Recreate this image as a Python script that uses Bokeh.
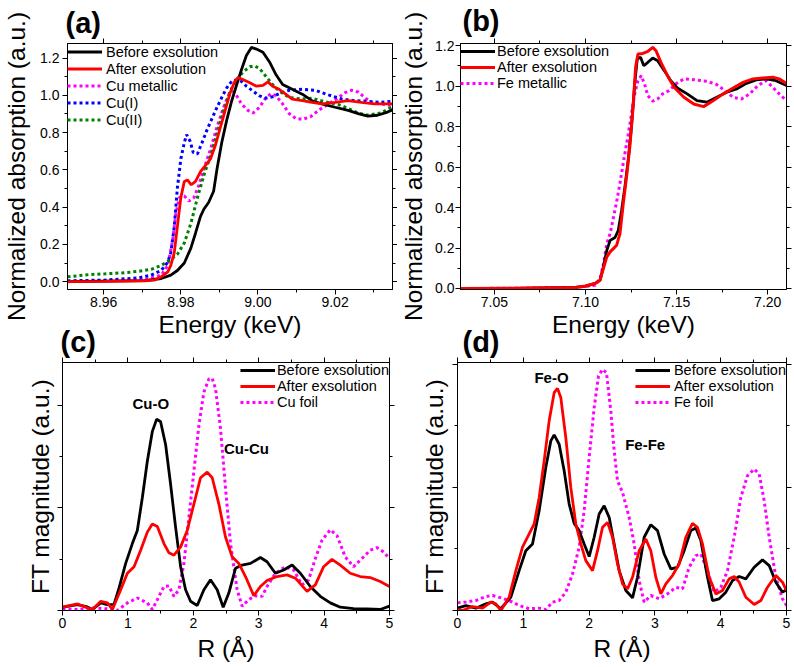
from bokeh.plotting import figure
from bokeh.layouts import column, row
from bokeh.models import (Range1d, LinearAxis, FixedTicker, NumeralTickFormatter,
                          Label, Legend, LegendItem, Title, CustomLabelingPolicy)
from bokeh.embed import file_html
from bokeh.resources import INLINE

FONT = "Liberation Sans"
BLACK, RED, MAGENTA, BLUE, GREEN = "#000000", "#ff0000", "#ff00ff", "#0000ff", "#008000"

# ---------------- (a) Cu K-edge XANES ----------------
a_x_ticks = [8.96, 8.98, 9.00, 9.02]
a_x_minor = [8.97, 8.99, 9.01, 9.03]
a_y_ticks = [0.0, 0.2, 0.4, 0.6, 0.8, 1.0, 1.2]
a_y_minor = [0.1, 0.3, 0.5, 0.7, 0.9, 1.1]

a_E_before = [8.9506, 8.9600, 8.9706, 8.9749, 8.9774, 8.9791, 8.9809, 8.9826, 8.9838, 8.9851,
              8.9860, 8.9872, 8.9885, 8.9894, 8.9906, 8.9919, 8.9932, 8.9945, 8.9957, 8.9970,
              8.9983, 8.9996, 9.0013, 9.0030, 9.0047, 9.0064, 9.0089, 9.0115, 9.0140, 9.0166,
              9.0200, 9.0234, 9.0260, 9.0285, 9.0310, 9.0336, 9.0349]
a_before = [0.000, 0.003, 0.006, 0.017, 0.035, 0.060, 0.100, 0.180, 0.260, 0.350,
            0.390, 0.425, 0.485, 0.607, 0.746, 0.867, 0.971, 1.058, 1.136, 1.214,
            1.257, 1.248, 1.231, 1.179, 1.110, 1.058, 1.032, 1.006, 0.971, 0.954,
            0.936, 0.919, 0.902, 0.888, 0.893, 0.910, 0.922]

a_E_after = [8.9506, 8.9600, 8.9706, 8.9732, 8.9749, 8.9766, 8.9774, 8.9783, 8.9791, 8.9800,
             8.9809, 8.9817, 8.9827, 8.9838, 8.9851, 8.9864, 8.9877, 8.9889, 8.9902, 8.9915,
             8.9928, 8.9940, 8.9949, 8.9962, 8.9979, 8.9996, 9.0013, 9.0026, 9.0038, 9.0055,
             9.0072, 9.0089, 9.0115, 9.0140, 9.0166, 9.0200, 9.0234, 9.0268, 9.0302, 9.0349]
a_after = [0.000, 0.002, 0.005, 0.009, 0.026, 0.052, 0.087, 0.156, 0.295, 0.451,
           0.538, 0.546, 0.520, 0.538, 0.590, 0.624, 0.659, 0.728, 0.824, 0.919,
           1.014, 1.075, 1.096, 1.084, 1.067, 1.049, 1.053, 1.072, 1.049, 1.032,
           1.006, 0.980, 0.971, 0.962, 0.954, 0.962, 0.971, 0.962, 0.954, 0.954]

a_E_cu = [8.9506, 8.9600, 8.9706, 8.9749, 8.9766, 8.9779, 8.9787, 8.9796, 8.9809, 8.9821,
          8.9834, 8.9847, 8.9860, 8.9877, 8.9894, 8.9911, 8.9923, 8.9936, 8.9945, 8.9957,
          8.9974, 8.9987, 9.0004, 9.0021, 9.0034, 9.0047, 9.0064, 9.0081, 9.0098, 9.0115,
          9.0136, 9.0157, 9.0183, 9.0209, 9.0226, 9.0243, 9.0260, 9.0277, 9.0294, 9.0319, 9.0349]
a_cu = [0.000, 0.004, 0.010, 0.035, 0.087, 0.225, 0.364, 0.451, 0.460, 0.433,
        0.451, 0.520, 0.607, 0.711, 0.832, 0.936, 0.997, 1.020, 0.997, 0.954,
        0.919, 0.905, 0.936, 0.988, 1.009, 0.997, 0.954, 0.902, 0.876, 0.871,
        0.884, 0.919, 0.954, 0.988, 1.014, 1.027, 1.018, 0.988, 0.962, 0.954, 0.945]

a_E_cu1 = [8.9506, 8.9600, 8.9689, 8.9723, 8.9749, 8.9766, 8.9774, 8.9783, 8.9791, 8.9800,
           8.9809, 8.9815, 8.9824, 8.9832, 8.9843, 8.9855, 8.9868, 8.9881, 8.9894, 8.9906,
           8.9919, 8.9932, 8.9945, 8.9957, 8.9970, 8.9987, 9.0004, 9.0021, 9.0038, 9.0055,
           9.0081, 9.0115, 9.0149, 9.0183, 9.0217, 9.0251, 9.0285, 9.0319, 9.0349]
a_cu1 = [0.005, 0.008, 0.020, 0.035, 0.060, 0.104, 0.156, 0.295, 0.503, 0.659,
         0.746, 0.789, 0.754, 0.694, 0.685, 0.746, 0.815, 0.876, 0.936, 0.988,
         1.040, 1.075, 1.084, 1.075, 1.049, 1.023, 0.997, 0.985, 0.992, 1.009,
         1.027, 1.032, 1.027, 1.002, 0.980, 0.971, 0.968, 0.962, 0.968]

a_E_cu2 = [8.9506, 8.9561, 8.9604, 8.9647, 8.9689, 8.9723, 8.9749, 8.9770, 8.9791, 8.9809,
           8.9826, 8.9843, 8.9860, 8.9877, 8.9894, 8.9911, 8.9928, 8.9945, 8.9962, 8.9979,
           8.9991, 9.0004, 9.0021, 9.0038, 9.0055, 9.0081, 9.0115, 9.0140, 9.0174, 9.0209,
           9.0234, 9.0260, 9.0285, 9.0319, 9.0349]
a_cu2 = [0.026, 0.038, 0.042, 0.047, 0.055, 0.066, 0.087, 0.113, 0.147, 0.208,
         0.312, 0.451, 0.572, 0.676, 0.798, 0.919, 1.023, 1.084, 1.127, 1.153,
         1.158, 1.144, 1.101, 1.058, 1.023, 0.988, 0.980, 0.985, 0.965, 0.950,
         0.930, 0.905, 0.893, 0.905, 0.940]

# ---------------- (b) Fe K-edge XANES ----------------
b_x_ticks = [7.05, 7.10, 7.15, 7.20]
b_x_minor = [7.075, 7.125, 7.175]
b_y_ticks = [0.0, 0.2, 0.4, 0.6, 0.8, 1.0, 1.2]
b_y_minor = [0.1, 0.3, 0.5, 0.7, 0.9, 1.1]

b_E_before = [7.0314, 7.0600, 7.0945, 7.1000, 7.1053, 7.1080, 7.1098, 7.1117, 7.1135, 7.1162,
              7.1180, 7.1198, 7.1216, 7.1234, 7.1252, 7.1270, 7.1284, 7.1302, 7.1320, 7.1342,
              7.1369, 7.1396, 7.1432, 7.1468, 7.1504, 7.1558, 7.1612, 7.1666, 7.1720, 7.1775,
              7.1829, 7.1883, 7.1937, 7.1991, 7.2045, 7.2103]
b_before = [0.000, 0.001, 0.005, 0.012, 0.025, 0.041, 0.107, 0.189, 0.238, 0.252,
            0.288, 0.386, 0.501, 0.633, 0.797, 1.011, 1.134, 1.143, 1.101, 1.118,
            1.139, 1.126, 1.077, 1.027, 0.991, 0.962, 0.929, 0.921, 0.945, 0.970,
            0.986, 1.014, 1.031, 1.036, 1.027, 1.003]

b_E_after = [7.0314, 7.0600, 7.0945, 7.1000, 7.1053, 7.1080, 7.1098, 7.1117, 7.1135, 7.1153,
             7.1171, 7.1189, 7.1207, 7.1225, 7.1243, 7.1261, 7.1275, 7.1288, 7.1315, 7.1342,
             7.1369, 7.1387, 7.1414, 7.1450, 7.1486, 7.1540, 7.1594, 7.1648, 7.1702, 7.1756,
             7.1810, 7.1865, 7.1919, 7.1973, 7.2027, 7.2063, 7.2103]
b_after = [0.000, 0.001, 0.005, 0.012, 0.025, 0.041, 0.099, 0.156, 0.181, 0.197,
           0.214, 0.271, 0.419, 0.551, 0.699, 0.896, 1.093, 1.159, 1.162, 1.172,
           1.192, 1.175, 1.118, 1.052, 0.995, 0.945, 0.912, 0.899, 0.929, 0.962,
           0.991, 1.019, 1.036, 1.040, 1.044, 1.036, 1.014]

b_E_fe = [7.0314, 7.0600, 7.0945, 7.1053, 7.1080, 7.1099, 7.1117, 7.1135, 7.1153, 7.1171,
          7.1189, 7.1207, 7.1234, 7.1252, 7.1270, 7.1288, 7.1306, 7.1324, 7.1342, 7.1369,
          7.1396, 7.1423, 7.1459, 7.1495, 7.1540, 7.1594, 7.1666, 7.1720, 7.1765, 7.1810,
          7.1856, 7.1901, 7.1946, 7.1991, 7.2027, 7.2063, 7.2103]
b_fe = [0.000, 0.001, 0.005, 0.016, 0.049, 0.123, 0.222, 0.271, 0.350, 0.430,
        0.520, 0.620, 0.760, 0.860, 0.962, 1.027, 1.052, 1.011, 0.953, 0.926,
        0.937, 0.962, 0.978, 1.011, 1.036, 1.032, 1.024, 1.008, 0.978, 0.945,
        0.937, 0.962, 1.003, 1.027, 0.995, 0.962, 0.929]

# ---------------- (c) Cu K-edge Fourier transform ----------------
c_x_ticks = [0, 1, 2, 3, 4, 5]
c_x_minor = [0.5, 1.5, 2.5, 3.5, 4.5]
c_y_ticks = [0, 1, 2]
c_y_minor = [0.5, 1.5]

c_R_before = [0.000, 0.229, 0.381, 0.458, 0.585, 0.687, 0.788, 0.865, 0.966, 1.068,
              1.144, 1.221, 1.297, 1.373, 1.440, 1.500, 1.577, 1.653, 1.729, 1.806,
              1.882, 1.958, 2.060, 2.162, 2.263, 2.365, 2.457, 2.543, 2.645, 2.747,
              2.874, 3.026, 3.128, 3.255, 3.382, 3.510, 3.637, 3.789, 3.942, 4.095,
              4.247, 4.451, 4.654, 4.858, 5.000]
c_before = [0.032, 0.058, 0.035, 0.010, 0.074, 0.058, 0.060, 0.220, 0.459, 0.652,
            0.780, 1.101, 1.454, 1.743, 1.865, 1.840, 1.615, 1.230, 0.812, 0.427,
            0.202, 0.090, 0.048, 0.202, 0.299, 0.202, 0.032, 0.170, 0.411, 0.443,
            0.459, 0.517, 0.475, 0.363, 0.395, 0.443, 0.363, 0.234, 0.138, 0.074,
            0.032, 0.019, 0.016, 0.010, 0.042]

c_R_after = [0.000, 0.229, 0.381, 0.458, 0.585, 0.687, 0.763, 0.890, 0.992, 1.094,
             1.195, 1.297, 1.373, 1.450, 1.551, 1.628, 1.704, 1.806, 1.907, 2.009,
             2.111, 2.213, 2.289, 2.391, 2.492, 2.594, 2.696, 2.798, 2.925, 3.026,
             3.128, 3.281, 3.433, 3.561, 3.739, 3.866, 3.993, 4.120, 4.247, 4.400,
             4.552, 4.705, 4.858, 5.000]
c_after = [0.032, 0.064, 0.026, 0.010, 0.090, 0.074, 0.010, 0.202, 0.363, 0.427,
           0.587, 0.764, 0.844, 0.819, 0.652, 0.562, 0.539, 0.620, 0.780, 1.037,
           1.294, 1.348, 1.294, 1.037, 0.716, 0.523, 0.459, 0.331, 0.144, 0.234,
           0.292, 0.331, 0.347, 0.315, 0.186, 0.250, 0.427, 0.498, 0.443, 0.363,
           0.331, 0.321, 0.283, 0.234]

c_R_foil = [0.000, 0.229, 0.483, 0.687, 0.839, 0.992, 1.144, 1.297, 1.373, 1.450,
            1.551, 1.628, 1.704, 1.780, 1.857, 1.933, 2.009, 2.086, 2.162, 2.238,
            2.289, 2.340, 2.416, 2.492, 2.569, 2.670, 2.747, 2.848, 2.950, 3.052,
            3.128, 3.255, 3.408, 3.535, 3.662, 3.764, 3.866, 3.967, 4.095, 4.196,
            4.323, 4.451, 4.578, 4.705, 4.807, 4.909, 5.000]
c_foil = [0.016, 0.010, 0.026, 0.016, 0.000, 0.074, 0.122, 0.074, 0.010, 0.106,
          0.234, 0.240, 0.138, 0.202, 0.459, 0.909, 1.358, 1.807, 2.128, 2.257,
          2.263, 2.160, 1.775, 1.197, 0.652, 0.202, 0.042, 0.106, 0.144, 0.138,
          0.234, 0.363, 0.427, 0.395, 0.250, 0.299, 0.507, 0.684, 0.787, 0.732,
          0.523, 0.427, 0.507, 0.587, 0.613, 0.571, 0.507]

# ---------------- (d) Fe K-edge Fourier transform ----------------
d_x_ticks = [0, 1, 2, 3, 4, 5]
d_x_minor = [0.5, 1.5, 2.5, 3.5, 4.5]
d_y_ticks = [0, 1, 2]
d_y_minor = [0.5, 1.5]

d_R_before = [0.000, 0.127, 0.279, 0.431, 0.532, 0.659, 0.811, 0.937, 1.038, 1.140,
              1.241, 1.342, 1.418, 1.469, 1.545, 1.621, 1.697, 1.773, 1.849, 1.925,
              2.001, 2.077, 2.153, 2.229, 2.305, 2.381, 2.457, 2.558, 2.660, 2.736,
              2.837, 2.938, 3.040, 3.141, 3.242, 3.343, 3.445, 3.546, 3.622, 3.698,
              3.799, 3.875, 3.977, 4.078, 4.179, 4.281, 4.382, 4.509, 4.635, 4.737,
              4.838, 4.939, 5.000]
d_before = [0.019, 0.040, 0.019, 0.054, 0.068, 0.014, 0.108, 0.324, 0.486, 0.541,
            0.811, 1.162, 1.378, 1.427, 1.351, 1.135, 0.865, 0.708, 0.649, 0.541,
            0.438, 0.595, 0.784, 0.851, 0.757, 0.541, 0.324, 0.162, 0.103, 0.270,
            0.595, 0.697, 0.649, 0.459, 0.338, 0.351, 0.486, 0.649, 0.670, 0.568,
            0.270, 0.081, 0.095, 0.149, 0.243, 0.276, 0.257, 0.351, 0.411, 0.365,
            0.230, 0.149, 0.168]

d_R_after = [0.000, 0.076, 0.228, 0.380, 0.507, 0.583, 0.659, 0.785, 0.887, 0.988,
             1.089, 1.165, 1.241, 1.317, 1.393, 1.469, 1.520, 1.570, 1.646, 1.722,
             1.798, 1.874, 1.950, 2.052, 2.128, 2.204, 2.280, 2.356, 2.432, 2.508,
             2.584, 2.660, 2.761, 2.862, 2.938, 3.014, 3.090, 3.166, 3.267, 3.369,
             3.470, 3.571, 3.647, 3.723, 3.825, 3.926, 4.027, 4.129, 4.205, 4.281,
             4.382, 4.509, 4.610, 4.711, 4.838, 4.939, 5.000]
d_after = [0.008, 0.000, 0.032, 0.019, 0.068, 0.054, 0.000, 0.108, 0.324, 0.514,
           0.622, 0.703, 0.919, 1.216, 1.541, 1.770, 1.805, 1.730, 1.405, 1.000,
           0.703, 0.541, 0.405, 0.324, 0.486, 0.676, 0.716, 0.595, 0.378, 0.216,
           0.176, 0.270, 0.486, 0.581, 0.486, 0.270, 0.135, 0.216, 0.284, 0.378,
           0.595, 0.708, 0.676, 0.541, 0.270, 0.135, 0.162, 0.257, 0.276, 0.230,
           0.108, 0.049, 0.081, 0.189, 0.284, 0.230, 0.162]

d_R_foil = [0.000, 0.127, 0.279, 0.431, 0.532, 0.659, 0.785, 0.937, 1.089, 1.241,
            1.342, 1.444, 1.545, 1.646, 1.748, 1.849, 1.925, 2.001, 2.077, 2.143,
            2.204, 2.264, 2.330, 2.381, 2.432, 2.508, 2.609, 2.685, 2.761, 2.837,
            2.938, 3.065, 3.191, 3.318, 3.419, 3.521, 3.622, 3.698, 3.799, 3.901,
            4.002, 4.103, 4.205, 4.306, 4.407, 4.509, 4.585, 4.661, 4.737, 4.838,
            4.939, 5.000]
d_foil = [0.062, 0.068, 0.081, 0.114, 0.122, 0.103, 0.081, 0.041, 0.014, 0.019,
          0.008, 0.068, 0.081, 0.149, 0.297, 0.514, 0.811, 1.243, 1.649, 1.905,
          1.959, 1.932, 1.622, 1.297, 1.054, 0.959, 0.757, 0.541, 0.243, 0.068,
          0.122, 0.095, 0.135, 0.189, 0.176, 0.351, 0.446, 0.459, 0.324, 0.149,
          0.189, 0.324, 0.595, 0.919, 1.095, 1.149, 1.108, 0.892, 0.595, 0.270,
          0.095, 0.041]


def style_axis(ax, show_labels, label_standoff=2, title_standoff=2):
    ax.major_tick_in = 0
    ax.major_tick_out = 5
    ax.minor_tick_in = 0
    ax.minor_tick_out = 3
    ax.axis_line_color = "black"
    ax.major_tick_line_color = "black"
    ax.minor_tick_line_color = "black"
    ax.major_label_text_font = FONT
    ax.major_label_text_color = "black"
    if show_labels:
        ax.major_label_text_font_size = "14px"
        ax.major_label_standoff = label_standoff
    else:
        # tick marks only: no tick labels are emitted at all
        ax.major_label_text_font_size = "0px"
        ax.major_label_standoff = 0
        ax.major_label_policy = CustomLabelingPolicy(code="return []")
    ax.axis_label_text_font = FONT
    ax.axis_label_text_font_size = "24.5px"
    ax.axis_label_text_font_style = "normal"
    ax.axis_label_text_color = "black"
    ax.axis_label_standoff = title_standoff


def make_panel(width, height, x_range, y_range, border, xt, yt, x_label, y_label,
               x_fmt, y_fmt, xs=(2, 1), ys=(4, 4)):
    left, right, top, bottom = border
    p = figure(width=width, height=height, x_range=Range1d(*x_range), y_range=Range1d(*y_range),
               x_axis_type=None, y_axis_type=None, output_backend="svg", toolbar_location=None,
               min_border_left=left, min_border_right=right,
               min_border_top=top, min_border_bottom=bottom)
    p.outline_line_color = "black"
    p.background_fill_color = "white"
    p.border_fill_color = None

    bottom_ax = LinearAxis(ticker=FixedTicker(ticks=xt[0], minor_ticks=xt[1]), axis_label=x_label)
    style_axis(bottom_ax, True, *xs)
    bottom_ax.formatter = NumeralTickFormatter(format=x_fmt)
    p.add_layout(bottom_ax, "below")

    left_ax = LinearAxis(ticker=FixedTicker(ticks=yt[0], minor_ticks=yt[1]), axis_label=y_label)
    style_axis(left_ax, y_fmt is not None, *ys)
    if y_fmt is not None:
        left_ax.formatter = NumeralTickFormatter(format=y_fmt)
    p.add_layout(left_ax, "left")

    # mirrored tick marks on the top and right edges of the frame
    top_ax = LinearAxis(ticker=FixedTicker(ticks=xt[0], minor_ticks=xt[1]))
    style_axis(top_ax, False)
    p.add_layout(top_ax, "above")
    right_ax = LinearAxis(ticker=FixedTicker(ticks=yt[0], minor_ticks=yt[1]))
    style_axis(right_ax, False)
    p.add_layout(right_ax, "right")
    return p


def add_legend(p, items, location, padding, row_h, standoff):
    lg = Legend(items=[LegendItem(label=t, renderers=[r]) for t, r in items],
                location=location, margin=0, padding=padding, spacing=0,
                label_height=row_h, glyph_height=row_h, glyph_width=35,
                label_standoff=standoff, border_line_color=None,
                background_fill_alpha=0, label_text_font=FONT,
                label_text_font_size="14.5px", label_text_color="black")
    p.add_layout(lg)


def panel_tag(p, text, offset, standoff):
    p.add_layout(Title(text=text, align="left", offset=offset, standoff=standoff,
                       text_font=FONT, text_font_size="29px", text_font_style="bold",
                       text_color="black"), "above")


def peak_note(p, text, x, y):
    p.add_layout(Label(x=x, y=y, text=text, text_font=FONT, text_font_size="15px",
                       text_font_style="bold", text_align="center", text_baseline="middle",
                       text_color="black"))


DOT = dict(line_width=3, line_dash="3 3")
SOLID = dict(line_width=2.8)

TOP_H = 342          # upper row canvas height
TOP_LOW = 312        # where the lower row canvases begin
OVERLAP = TOP_H - TOP_LOW
BOT_H = 667 - TOP_LOW

# ---- (a) ----
a_xr, a_yr = (8.9506, 9.0349), (-0.042, 1.278)
pa = make_panel(397, TOP_H, a_xr, a_yr, (62, 5, 38, TOP_H - 291), (a_x_ticks, a_x_minor),
                (a_y_ticks, a_y_minor), "Energy (keV)", "Normalized absorption (a.u.)",
                "0.00", "0.0", ys=(3, 7))
r_cu = pa.line(a_E_cu, a_cu, line_color=MAGENTA, **DOT)
r_cu1 = pa.line(a_E_cu1, a_cu1, line_color=BLUE, **DOT)
r_cu2 = pa.line(a_E_cu2, a_cu2, line_color=GREEN, **DOT)
r_ab = pa.line(a_E_before, a_before, line_color=BLACK, **SOLID)
r_aa = pa.line(a_E_after, a_after, line_color=RED, **SOLID)
add_legend(pa, [("Before exsolution", r_ab), ("After exsolution", r_aa),
                ("Cu metallic", r_cu), ("Cu(I)", r_cu1), ("Cu(II)", r_cu2)],
           "top_left", 7, 17, 4)
panel_tag(pa, "(a)", -2, 0)

# ---- (b) ----
b_xr, b_yr = (7.0314, 7.2103), (-0.005, 1.211)
pb = make_panel(397, TOP_H, b_xr, b_yr, (58, 8, 43, TOP_H - 289), (b_x_ticks, b_x_minor),
                (b_y_ticks, b_y_minor), "Energy (keV)", "Normalized absorption (a.u.)",
                "0.00", "0.0", ys=(1, 5))
r_fe = pb.line(b_E_fe, b_fe, line_color=MAGENTA, **DOT)
r_bb = pb.line(b_E_before, b_before, line_color=BLACK, **SOLID)
r_ba = pb.line(b_E_after, b_after, line_color=RED, line_width=3)
add_legend(pb, [("Before exsolution", r_bb), ("After exsolution", r_ba),
                ("Fe metallic", r_fe)], "top_left", 2, 16, 2)
panel_tag(pb, "(b)", 2, 4)

# ---- (c) ----
c_xr, c_yr = (0, 5), (0, 2.417)
pc = make_panel(397, BOT_H, c_xr, c_yr, (62, 8, 360 - TOP_LOW, 56), (c_x_ticks, c_x_minor),
                (c_y_ticks, c_y_minor), "R (Å)", "FT magnitude (a.u.)", "0", None,
                xs=(2, 4), ys=(0, 4))
r_cf = pc.line(c_R_foil, c_foil, line_color=MAGENTA, **DOT)
r_cb = pc.line(c_R_before, c_before, line_color=BLACK, **SOLID)
r_ca = pc.line(c_R_after, c_after, line_color=RED, **SOLID)
add_legend(pc, [("Before exsolution", r_cb), ("After exsolution", r_ca),
                ("Cu foil", r_cf)], "top_right", 4, 16, 2)
peak_note(pc, "Cu-O", 1.35, 2.013)
peak_note(pc, "Cu-Cu", 2.813, 1.583)
panel_tag(pc, "(c)", -2, 0)

# ---- (d) ----
d_xr, d_yr = (0, 5), (0, 2.015)
pd_ = make_panel(397, BOT_H, d_xr, d_yr, (60, 8, 362 - TOP_LOW, 57), (d_x_ticks, d_x_minor),
                 (d_y_ticks, d_y_minor), "R (Å)", "FT magnitude (a.u.)", "0", None,
                 xs=(2, 4), ys=(0, 5))
r_df = pd_.line(d_R_foil, d_foil, line_color=MAGENTA, **DOT)
r_db = pd_.line(d_R_before, d_before, line_color=BLACK, **SOLID)
r_da = pd_.line(d_R_after, d_after, line_color=RED, **SOLID)
add_legend(pd_, [("Before exsolution", r_db), ("After exsolution", r_da),
                 ("Fe foil", r_df)], "top_right", 4, 16, 4)
peak_note(pd_, "Fe-O", 1.429, 1.892)
peak_note(pd_, "Fe-Fe", 2.852, 1.351)
panel_tag(pd_, "(d)", 5, 0)

# the lower row's tags share the band under the upper row's axis titles
layout = column(row(pa, pb), row(pc, pd_, margin=(-OVERLAP, 0, 0, 0)))

with open("out.html", "w") as f:
    f.write(file_html(layout, INLINE))
